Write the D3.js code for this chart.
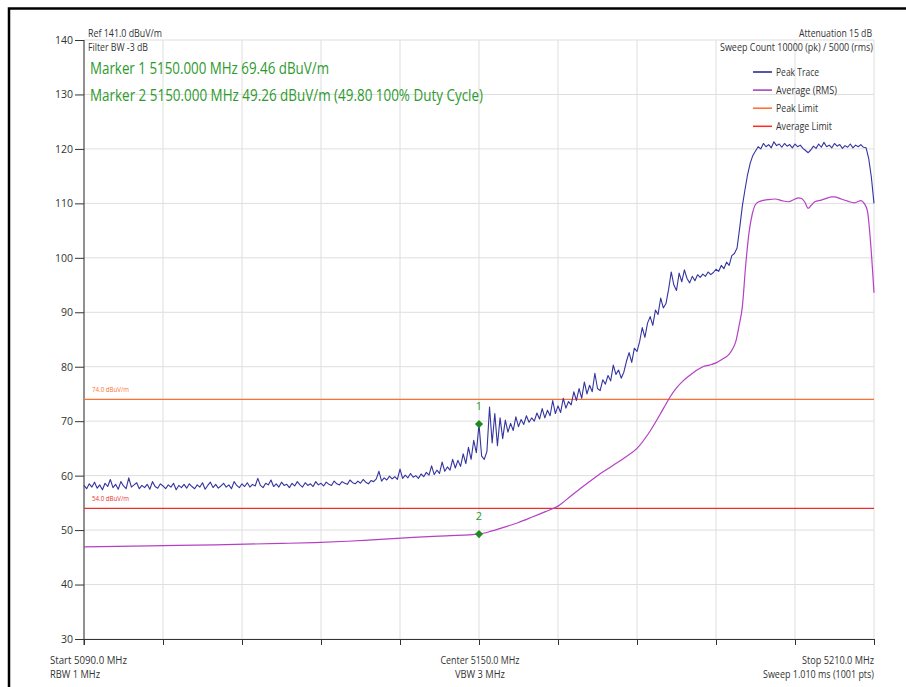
<!DOCTYPE html>
<html>
<head>
<meta charset="utf-8">
<script src="https://cdn.jsdelivr.net/npm/d3@7"></script>
<style>
  body { margin: 0; background: #fff; }
  svg text { font-family: 'Open Sans', 'Noto Sans', sans-serif; }
</style>
</head>
<body>
<svg id="chart" width="906" height="687"></svg>
<script>
// sweep settings
const freqStart = 5090
const freqStop = 5210
const peakStep = 0.4

// peak trace, one value every 0.4 MHz from 5090 MHz
const peakDb = [
  58.2, 57.6, 58.5, 57.9, 58.8, 57.7, 58.3, 57.4, 58.6, 58.0,
  59.3, 57.8, 58.4, 57.5, 58.9, 58.1, 57.6, 59.6, 57.9, 58.3,
  58.7, 57.6, 58.2, 57.8, 58.4, 57.5, 58.9, 58.0, 57.7, 58.5,
  58.1, 57.6, 58.3, 57.9, 58.6, 57.4, 58.2, 57.8, 58.4, 57.7,
  58.5, 58.0, 57.6, 58.3, 57.9, 58.7, 57.5, 58.2, 58.8, 57.8,
  58.4, 57.7, 58.1, 58.6, 57.9, 58.3, 57.6, 58.9, 58.2, 57.8,
  58.5, 58.0, 58.7, 57.9, 58.4, 58.1, 59.5, 58.2, 57.8, 58.6,
  58.3, 59.2, 58.0, 58.5, 57.9, 58.8, 58.2, 58.4, 57.8, 58.6,
  58.1, 58.9, 58.3, 57.9, 58.7, 58.2, 58.5, 58.0, 58.9, 58.3,
  58.6, 58.1, 58.8, 58.4, 58.2, 59.0, 58.5, 58.3, 58.9, 58.6,
  58.4, 59.2, 58.7, 58.5, 59.0, 58.6, 59.3, 58.8, 58.5, 59.1,
  58.9, 59.4, 60.8, 59.0, 59.6, 59.2, 59.9, 59.4, 59.8, 59.3,
  61.2, 59.5, 60.1, 59.6, 60.4, 59.7, 60.0, 59.5, 60.3, 59.8,
  60.6, 60.1, 61.8, 60.2, 61.0, 60.4, 62.5, 60.8, 61.6, 61.0,
  63.0, 61.4, 62.8, 61.7, 64.0, 62.2, 65.2, 63.0, 66.5, 64.2,
  69.46, 63.6, 63.0, 64.4, 72.6, 66.0, 71.4, 65.5, 70.6, 66.8,
  70.2, 68.0, 69.6, 68.3, 70.8, 69.0, 70.3, 69.4, 71.0, 69.8,
  70.6, 70.0, 71.5, 70.4, 72.3, 70.6, 72.0, 71.0, 73.8, 71.4,
  72.8, 71.6, 74.2, 72.4, 73.6, 73.0, 75.4, 73.8, 76.0, 74.2,
  77.2, 75.0, 76.6, 75.4, 78.8, 76.0, 75.6, 77.6, 76.8, 78.4,
  77.4, 80.3, 78.6, 79.4, 77.9, 79.0, 81.0, 82.6, 80.8, 83.4,
  82.8, 84.6, 87.2, 85.4, 88.0, 89.2, 87.6, 90.4, 89.6, 92.6,
  90.8, 91.6, 94.2, 97.4, 95.0, 94.0, 97.2, 95.6, 97.8, 96.2,
  95.4, 96.6, 95.8, 96.9, 96.4, 97.0, 96.6, 97.4, 96.9, 97.3,
  97.9, 97.5, 98.6, 98.0, 99.2, 98.6, 100.4, 100.8, 101.8, 105.5,
  109.5, 112.5, 115.3, 117.4, 118.8, 119.6, 120.4, 120.0, 121.0, 120.4,
  120.8, 120.2, 121.3, 120.6, 120.9, 120.3, 121.0, 120.5, 120.8, 120.2,
  120.9, 120.4, 120.7, 120.1, 119.7, 119.3, 119.8, 120.5, 120.1, 120.9,
  120.3, 121.2, 120.4, 120.7, 120.2, 121.0, 120.5, 120.8, 120.1, 120.6,
  120.3, 120.9, 120.2, 120.7, 120.4, 120.8, 120.3, 120.2, 118.2, 114.8,
  110.0
]

// average (RMS) trace
const avgFreq = [
  5090, 5100, 5110, 5120, 5125, 5130, 5135, 5140, 5145, 5150,
  5152, 5154, 5156, 5158, 5160, 5162, 5164, 5166, 5168, 5170,
  5172, 5174, 5176, 5178, 5179, 5180, 5181, 5182, 5183, 5184,
  5185, 5186, 5187, 5188, 5188.5, 5189, 5189.5, 5190, 5190.5, 5191,
  5191.5, 5192, 5192.5, 5193, 5194, 5195, 5196, 5197, 5198, 5198.5,
  5199, 5199.5, 5200, 5200.5, 5201, 5202, 5203, 5203.5, 5204, 5205,
  5206, 5207, 5207.5, 5208, 5208.5, 5209, 5209.5, 5210
]
const avgDb = [
  46.9, 47.1, 47.3, 47.55, 47.7, 47.95, 48.3, 48.65, 48.95, 49.26,
  49.85, 50.6, 51.4, 52.35, 53.35, 54.4, 56.3, 58.2, 60.0, 61.6,
  63.2, 65.0, 68.2, 72.3, 74.4, 76.1, 77.4, 78.4, 79.3, 80.0,
  80.3, 80.7, 81.4, 82.3, 83.2, 84.6, 87.5, 91.0, 98.5, 104.5,
  108.0, 109.8, 110.3, 110.5, 110.7, 110.8, 110.5, 110.3, 110.8, 111.0,
  110.9, 110.2, 109.1, 109.7, 110.3, 110.6, 111.0, 111.2, 111.2, 110.8,
  110.4, 110.1, 110.3, 110.5, 110.0, 108.6, 102.5, 93.6
]

// limits and markers
const limitValues = [74, 54]
const limitLabels = ['74.0 dBuV/m', '54.0 dBuV/m']
const markerNames = ['1', '2']
const markerFreq = [5150, 5150]
const markerDb = [69.46, 49.26]
const markerTexts = [
  'Marker 1 5150.000 MHz 69.46 dBuV/m',
  'Marker 2 5150.000 MHz 49.26 dBuV/m (49.80 100% Duty Cycle)'
]

// axes
const yTicks = [30, 40, 50, 60, 70, 80, 90, 100, 110, 120, 130, 140]
const xTicks = [5090, 5102, 5114, 5126, 5138, 5150, 5162, 5174, 5186, 5198, 5210]
const legendNames = ['Peak Trace', 'Average (RMS)', 'Peak Limit', 'Average Limit']

const colors = {
  peak: '#34349f', avg: '#b540c4', peakLimit: '#ff6f35', avgLimit: '#e8312c',
  marker: '#1f8a1f', markerText: '#2d9a2d', grid: '#dedede', axis: '#333', text: '#333'
}
const legendColors = ['#1f1f8a', '#a237b8', '#ff6a30', '#ff2a22']
const limitColors = [colors.peakLimit, colors.avgLimit]

const svg = d3.select('#chart')
const x = d3.scaleLinear().domain([freqStart, freqStop]).range([84, 874])
const y = d3.scaleLinear().domain([30, 140]).range([639, 40])

// squeeze text to the width it has in the screenshot
const fit = (sel, w) => sel.attr('textLength', w).attr('lengthAdjust', 'spacingAndGlyphs')

// frame
svg.append('path')
  .attr('d', 'M9,687 V8.5 H906')
  .attr('fill', 'none').attr('stroke', '#000').attr('stroke-width', 2.5)

// --- grid
const grid = svg.append('g')
grid.selectAll('line.h').data(yTicks).join('line')
  .attr('x1', x(freqStart)).attr('x2', x(freqStop))
  .attr('y1', d => y(d)).attr('y2', d => y(d))
  .attr('stroke', colors.grid).attr('stroke-width', 1)
grid.selectAll('line.v').data(xTicks).join('line')
  .attr('x1', d => x(d)).attr('x2', d => x(d))
  .attr('y1', y(140)).attr('y2', y(30))
  .attr('stroke', colors.grid).attr('stroke-width', 1)

// --- axes
const yAxis = svg.append('g')
  .attr('transform', `translate(${x(freqStart)},0)`)
  .call(d3.axisLeft(y).tickValues(yTicks).tickSize(9).tickSizeOuter(0).tickPadding(2))
const xAxis = svg.append('g')
  .attr('transform', `translate(0,${y(30)})`)
  .call(d3.axisBottom(x).tickValues(xTicks).tickSize(6).tickSizeOuter(0).tickFormat(''))
;[yAxis, xAxis].forEach(a => {
  a.selectAll('path,line').attr('stroke', colors.axis)
  a.selectAll('text').attr('fill', colors.text).attr('font-size', 10.5)
    .attr('font-family', "'Open Sans', sans-serif")
})
yAxis.select('path.domain').attr('d', `M0,${y(140)}V${y(30) + 6}`)

// --- limit lines
limitValues.forEach((v, i) => {
  svg.append('line')
    .attr('x1', x(freqStart)).attr('x2', x(freqStop))
    .attr('y1', y(v)).attr('y2', y(v))
    .attr('stroke', limitColors[i]).attr('stroke-width', 1.2)
  svg.append('text')
    .attr('x', x(freqStart) + 8).attr('y', y(v) - 7)
    .attr('font-size', 8).attr('fill', limitColors[i])
    .text(limitLabels[i])
    .call(fit, 37)
})

// --- traces
const avgLine = d3.line()
  .x((d, i) => x(avgFreq[i]))
  .y(d => y(d))
  .curve(d3.curveMonotoneX)
svg.append('path').datum(avgDb)
  .attr('d', avgLine)
  .attr('fill', 'none').attr('stroke', colors.avg).attr('stroke-width', 1.2)

const peakLine = d3.line()
  .x((d, i) => x(freqStart + i * peakStep))
  .y(d => y(d))
svg.append('path').datum(peakDb)
  .attr('d', peakLine)
  .attr('fill', 'none').attr('stroke', colors.peak).attr('stroke-width', 1.1)
  .attr('stroke-linejoin', 'round')

// --- markers
markerDb.forEach((v, i) => {
  const mx = x(markerFreq[i])
  const my = y(v)
  svg.append('path')
    .attr('d', d3.symbol(d3.symbolDiamond2, 42)())
    .attr('transform', `translate(${mx},${my})`)
    .attr('fill', colors.marker)
  svg.append('text')
    .attr('x', mx).attr('y', my - 14)
    .attr('text-anchor', 'middle').attr('font-size', 11)
    .attr('fill', colors.markerText)
    .text(markerNames[i])
})

// --- info texts round the plot
const info = [
  {t: 'Ref 141.0 dBuV/m', x: 88, y: 37, a: 'start', w: 74},
  {t: 'Filter BW -3 dB', x: 88, y: 51, a: 'start', w: 60},
  {t: 'Attenuation 15 dB', x: 872, y: 37, a: 'end', w: 73},
  {t: 'Sweep Count 10000 (pk) / 5000 (rms)', x: 873, y: 51, a: 'end', w: 153},
  {t: 'Start 5090.0 MHz', x: 50, y: 664, a: 'start', w: 77},
  {t: 'RBW 1 MHz', x: 50, y: 678, a: 'start', w: 50},
  {t: 'Center 5150.0 MHz', x: 480, y: 664, a: 'middle', w: 79},
  {t: 'VBW 3 MHz', x: 480, y: 678, a: 'middle', w: 50},
  {t: 'Stop 5210.0 MHz', x: 874, y: 664, a: 'end', w: 72},
  {t: 'Sweep 1.010 ms (1001 pts)', x: 874, y: 678, a: 'end', w: 111}
]
svg.selectAll('text.info').data(info).join('text')
  .attr('class', 'info')
  .attr('x', d => d.x).attr('y', d => d.y)
  .attr('text-anchor', d => d.a)
  .attr('font-size', 10.5).attr('fill', colors.text)
  .attr('textLength', d => d.w).attr('lengthAdjust', 'spacingAndGlyphs')
  .text(d => d.t)

const markerWidths = [239, 393]
svg.selectAll('text.marker-info').data(markerTexts).join('text')
  .attr('class', 'marker-info')
  .attr('x', 90).attr('y', (d, i) => 74 + i * 27)
  .attr('font-size', 17).attr('fill', colors.markerText)
  .attr('textLength', (d, i) => markerWidths[i]).attr('lengthAdjust', 'spacingAndGlyphs')
  .text(d => d)

// --- legend
const legendWidths = [43, 61, 42, 56]
const legend = svg.append('g').attr('transform', 'translate(753,72)')
const rows = legend.selectAll('g').data(legendNames).join('g')
  .attr('transform', (d, i) => `translate(0,${i * 18.1})`)
rows.append('line')
  .attr('x1', 0).attr('x2', 19)
  .attr('stroke', (d, i) => legendColors[i]).attr('stroke-width', 1.5)
rows.append('text')
  .attr('x', 23).attr('y', 4)
  .attr('font-size', 10.5).attr('fill', colors.text)
  .attr('textLength', (d, i) => legendWidths[i]).attr('lengthAdjust', 'spacingAndGlyphs')
  .text(d => d)
</script>
</body>
</html>
